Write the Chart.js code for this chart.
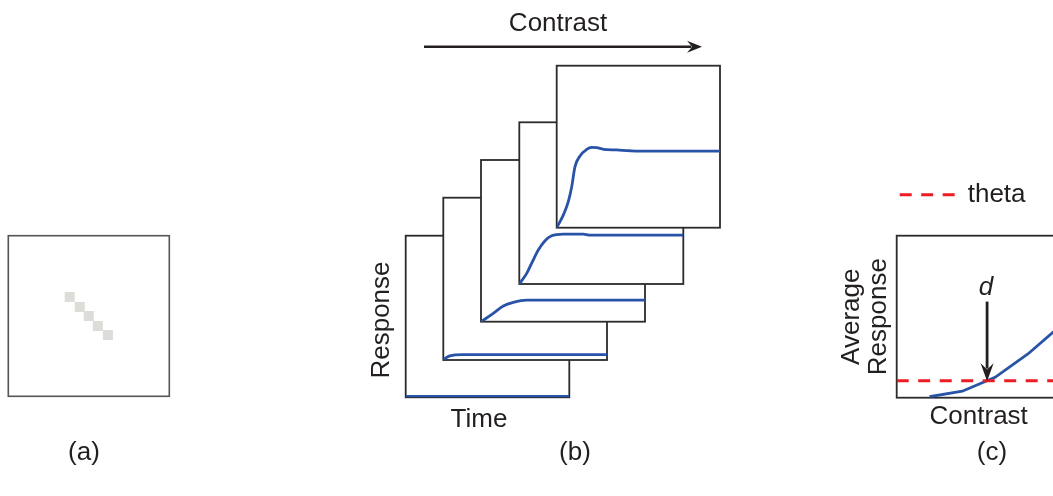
<!DOCTYPE html>
<html>
<head>
<meta charset="utf-8">
<script src="https://cdn.jsdelivr.net/npm/chart.js@4.4.1/dist/chart.umd.min.js"></script>
<style>
  html, body { margin: 0; padding: 0; background: #fff; }
  body { width: 1053px; height: 496px; overflow: hidden; position: relative; }
  canvas { position: absolute; left: 0; top: 0; pointer-events: none; }
</style>
</head>
<body>
<canvas id="panelA" width="1053" height="496"></canvas>
<canvas id="frame1" width="1053" height="496"></canvas>
<canvas id="frame2" width="1053" height="496"></canvas>
<canvas id="frame3" width="1053" height="496"></canvas>
<canvas id="frame4" width="1053" height="496"></canvas>
<canvas id="frame5" width="1053" height="496"></canvas>
<canvas id="panelC" width="1070" height="496"></canvas>
<script>
// (a) stimulus: lit pixels on a 16 x 16 grid
const pixelCols = [6.1, 7.1, 8.0, 8.9, 9.9]
const pixelRows = [6.1, 7.1, 8.0, 9.0, 9.9]

// (b) response over time, one trace per contrast level
const time1 = [0, 100]
const resp1 = [0.005, 0.005]
const time2 = [0, 4, 12, 100]
const resp2 = [0.004, 0.025, 0.033, 0.033]
const time3 = [0, 7.5, 13.6, 19.7, 27.9, 100]
const resp3 = [0, 0.051, 0.097, 0.12, 0.134, 0.134]
const time4 = [0, 4.5, 7.5, 11.6, 15.7, 19.7, 26.8, 39, 43.1, 49.2, 100]
const resp4 = [0, 0.066, 0.128, 0.21, 0.267, 0.298, 0.309, 0.309, 0.302, 0.302, 0.302]
const time5 = [0, 4.1, 7.1, 9.2, 11.2, 14.3, 18.4, 21.4, 24.5, 28.6, 36.7, 44.9, 51, 100]
const resp5 = [0, 0.079, 0.161, 0.253, 0.377, 0.443, 0.484, 0.496, 0.494, 0.484, 0.48, 0.475, 0.473, 0.473]

// (c) average response vs contrast, with threshold
const contrastLevels = [20, 40, 60, 80, 100]
const avgResponse = [0.006, 0.04, 0.126, 0.27, 0.445]
const theta = 0.105

const ink = '#231f20'
const blue = '#2853a6'
const red = '#ec1c24'
const font = '"Liberation Sans", Arial, sans-serif'
Chart.defaults.font.family = font
Chart.defaults.color = ink

// page boxes [left, top, right, bottom] of each plot area
const boxA = [8.3, 235.7, 169.3, 396.3]
const frameBoxes = [
  [405.7, 235.7, 569.3, 397.3],
  [443.3, 197.7, 607, 360],
  [481, 160, 645, 321.7],
  [519.3, 122.3, 683.3, 284],
  [556.7, 65.7, 720, 227.7]
]

function pad (box, w, h) {
  return { left: box[0], top: box[1], right: w - box[2], bottom: h - box[3] }
}

function zip (xs, ys) {
  return xs.map((x, i) => ({ x, y: ys[i] }))
}

function frameBox (color, width) {
  return {
    id: 'frameBox',
    beforeDatasetsDraw (chart) {
      const { ctx, chartArea: a } = chart
      ctx.save()
      ctx.fillStyle = '#fff'
      ctx.fillRect(a.left, a.top, a.width, a.height)
      ctx.strokeStyle = color
      ctx.lineWidth = width
      ctx.strokeRect(a.left, a.top, a.width, a.height)
      ctx.restore()
    }
  }
}

function drawArrow (ctx, x1, y1, x2, y2, head, half, lw) {
  const ang = Math.atan2(y2 - y1, x2 - x1)
  const c = Math.cos(ang)
  const s = Math.sin(ang)
  ctx.save()
  ctx.strokeStyle = ink
  ctx.fillStyle = ink
  ctx.lineWidth = lw
  ctx.beginPath()
  ctx.moveTo(x1, y1)
  ctx.lineTo(x2 - c * head * 0.7, y2 - s * head * 0.7)
  ctx.stroke()
  ctx.beginPath()
  ctx.moveTo(x2, y2)
  ctx.lineTo(x2 - c * head - s * half, y2 - s * head + c * half)
  ctx.lineTo(x2 - c * head * 0.65, y2 - s * head * 0.65)
  ctx.lineTo(x2 - c * head + s * half, y2 - s * head - c * half)
  ctx.closePath()
  ctx.fill()
  ctx.restore()
}

// free text and arrows, in page coordinates
function notes (texts, arrows) {
  return {
    id: 'notes',
    afterDraw (chart) {
      const ctx = chart.ctx
      ;(arrows || []).forEach(a => drawArrow(ctx, ...a))
      texts.forEach(n => {
        ctx.save()
        ctx.fillStyle = ink
        ctx.font = (n.style || '') + ' 26px ' + font
        ctx.textAlign = 'center'
        ctx.textBaseline = 'alphabetic'
        ctx.translate(n.x, n.y)
        if (n.rotate) ctx.rotate(n.rotate)
        ctx.fillText(n.text, 0, 0)
        ctx.restore()
      })
    }
  }
}

const hidden = (min, max, reverse) => ({ type: 'linear', display: false, min, max, reverse: !!reverse })

// (a)
new Chart(document.getElementById('panelA'), {
  type: 'scatter',
  data: {
    datasets: [{
      data: zip(pixelCols, pixelRows),
      pointStyle: 'rect',
      pointRadius: 7.07,
      backgroundColor: '#dcdcd8',
      borderWidth: 0
    }]
  },
  options: {
    responsive: false,
    animation: false,
    events: [],
    layout: { padding: pad(boxA, 1053, 496) },
    scales: { x: hidden(0, 16), y: hidden(0, 16, true) },
    plugins: { legend: { display: false }, tooltip: { enabled: false } }
  },
  plugins: [frameBox('#555', 1.6), notes([{ text: '(a)', x: 84, y: 460 }])]
})

// (b)
const traces = [[time1, resp1], [time2, resp2], [time3, resp3], [time4, resp4], [time5, resp5]]
traces.forEach((tr, i) => {
  const extra = []
  if (i === 0) {
    extra.push(notes([
      { text: 'Time', x: 479, y: 427 },
      { text: 'Response', x: 389, y: 320, rotate: -Math.PI / 2 },
      { text: '(b)', x: 575, y: 460 }
    ]))
  }
  if (i === 4) {
    extra.push(notes([{ text: 'Contrast', x: 558, y: 31 }], [[424, 46.7, 702, 46.7, 15, 6, 2.6]]))
  }
  new Chart(document.getElementById('frame' + (i + 1)), {
    type: 'line',
    data: {
      datasets: [{
        data: zip(tr[0], tr[1]),
        borderColor: blue,
        borderWidth: 2.8,
        pointRadius: 0,
        cubicInterpolationMode: 'monotone'
      }]
    },
    options: {
      responsive: false,
      animation: false,
      events: [],
      layout: { padding: pad(frameBoxes[i], 1053, 496) },
      scales: { x: hidden(0, 100), y: hidden(0, 1) },
      plugins: { legend: { display: false }, tooltip: { enabled: false } }
    },
    plugins: [frameBox('#2b2b2b', 1.8), ...extra]
  })
})

// (c) contrast at which the average response crosses theta
function crossing (xs, ys, level) {
  for (let i = 1; i < xs.length; i++) {
    if (ys[i - 1] < level && ys[i] >= level) {
      return xs[i - 1] + (xs[i] - xs[i - 1]) * (level - ys[i - 1]) / (ys[i] - ys[i - 1])
    }
  }
  return xs[0]
}
const dContrast = crossing(contrastLevels, avgResponse, theta)

const dMarker = {
  id: 'dMarker',
  afterDatasetsDraw (chart) {
    const { ctx, scales: { x, y } } = chart
    const px = x.getPixelForValue(dContrast)
    drawArrow(ctx, px, y.getPixelForValue(0.593), px, y.getPixelForValue(theta) + 0.5, 18, 6.5, 2.8)
    ctx.save()
    ctx.fillStyle = ink
    ctx.font = 'italic 26px ' + font
    ctx.textAlign = 'center'
    ctx.fillText('d', px - 1, y.getPixelForValue(0.677))
    ctx.restore()
  }
}

new Chart(document.getElementById('panelC'), {
  type: 'line',
  data: {
    datasets: [
      {
        label: 'theta',
        data: [{ x: 0, y: theta }, { x: 100, y: theta }],
        borderColor: red,
        borderWidth: 3,
        borderDash: [12, 9.5],
        pointRadius: 0
      },
      {
        label: 'average',
        data: zip(contrastLevels, avgResponse),
        borderColor: blue,
        borderWidth: 2.8,
        pointRadius: 0,
        tension: 0
      }
    ]
  },
  options: {
    responsive: false,
    animation: false,
    events: [],
    layout: { padding: { left: 834.1, top: 178.7, right: 9.3, bottom: 59.1 } },
    scales: {
      x: {
        type: 'linear', min: 0, max: 100,
        ticks: { display: false },
        grid: { display: false, drawTicks: false },
        border: { display: false },
        title: { display: true, text: 'Contrast', color: ink, font: { size: 26 } }
      },
      y: {
        type: 'linear', min: 0, max: 1,
        ticks: { display: false },
        grid: { display: false, drawTicks: false },
        border: { display: false },
        title: { display: true, text: ['Average', 'Response'], color: ink, font: { size: 26, lineHeight: 1.05 } }
      }
    },
    plugins: {
      tooltip: { enabled: false },
      legend: {
        display: true,
        position: 'top',
        align: 'start',
        fullSize: false,
        labels: {
          usePointStyle: true,
          pointStyleWidth: 55,
          padding: 3,
          color: ink,
          font: { size: 26 },
          generateLabels: chart => Chart.defaults.plugins.legend.labels.generateLabels(chart)
            .filter(it => it.text === 'theta')
            .map(it => Object.assign(it, { pointStyle: 'line', lineDash: [12, 9.5], lineWidth: 3, strokeStyle: red }))
        }
      },
      title: { display: true, text: '', weight: 500, fullSize: false, padding: { top: 3, bottom: 3 }, font: { size: 10 } }
    }
  },
  plugins: [frameBox('#2b2b2b', 1.8), dMarker, notes([{ text: '(c)', x: 992, y: 460 }])]
})
</script>
</body>
</html>
